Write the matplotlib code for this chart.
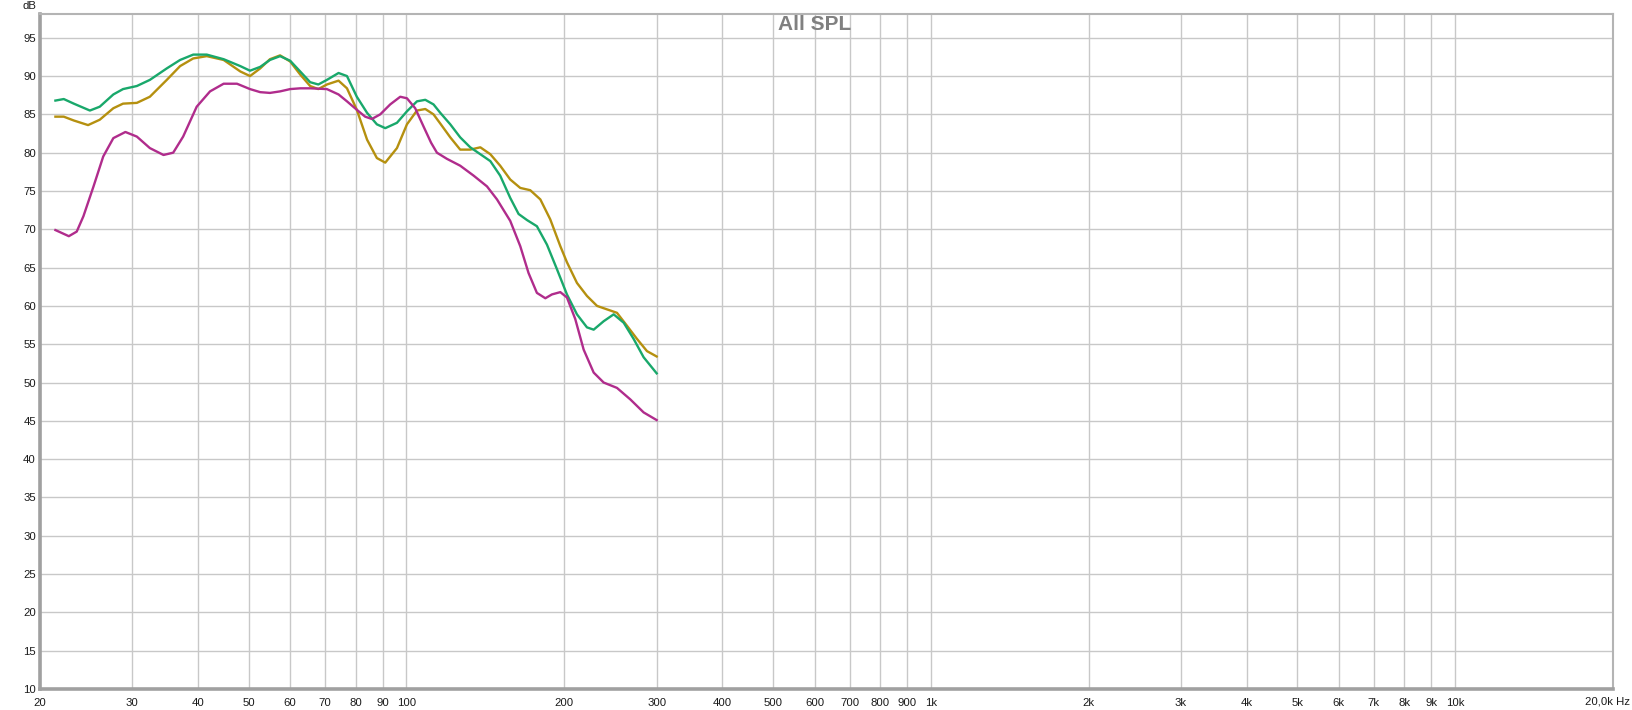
import matplotlib.pyplot as plt
from matplotlib.ticker import NullLocator

# frequencies (Hz) and levels (dB)
freq_green = [21.4, 22.2, 23.2, 24.9, 26.0, 27.6, 28.8, 30.6, 32.4, 34.9, 37.0, 39.2, 41.6, 44.8,
              48.2, 50.3, 52.6, 54.9, 57.4, 60.0, 62.7, 65.5, 67.9, 70.5, 74.2, 77.0, 80.4, 84.1,
              87.8, 91.1, 95.9, 100.2, 104.7, 108.6, 112.6, 116.0, 121.2, 126.6, 132.3, 138.3,
              144.5, 150.9, 157.7, 163.6, 169.8, 177.3, 185.3, 193.6, 202.3, 211.4, 220.9, 227.5,
              237.7, 248.4, 259.6, 271.1, 283.3, 300.0]
db_green = [86.8, 87.0, 86.4, 85.5, 86.0, 87.6, 88.3, 88.7, 89.5, 91.0, 92.1, 92.8, 92.8, 92.2,
            91.3, 90.7, 91.2, 92.1, 92.6, 92.0, 90.6, 89.2, 88.9, 89.5, 90.4, 90.0, 87.3, 85.2,
            83.7, 83.2, 83.9, 85.4, 86.7, 86.9, 86.3, 85.2, 83.7, 82.0, 80.7, 79.8,
            78.9, 77.0, 74.1, 72.0, 71.2, 70.4, 68.0, 64.8, 61.5, 58.9, 57.2, 56.9,
            58.0, 58.9, 57.8, 55.7, 53.3, 51.2]

freq_gold = [21.4, 22.2, 23.2, 24.7, 26.0, 27.6, 28.8, 30.6, 32.4, 34.9, 37.0, 39.2, 41.6, 44.8,
             48.2, 50.3, 52.6, 54.9, 57.4, 60.0, 62.7, 65.5, 67.9, 70.5, 74.2, 77.0, 80.4, 84.1,
             87.8, 91.1, 95.9, 100.2, 104.7, 108.6, 112.6, 116.0, 121.2, 126.6, 132.3, 138.3,
             144.5, 150.9, 157.7, 164.8, 172.2, 180.0, 188.0, 196.5, 202.3, 211.4, 220.9, 230.9,
             237.7, 252.0, 263.4, 275.1, 287.5, 300.0]
db_gold = [84.7, 84.7, 84.2, 83.6, 84.3, 85.8, 86.4, 86.5, 87.3, 89.5, 91.3, 92.3, 92.6, 92.1,
           90.6, 90.0, 91.0, 92.2, 92.7, 91.9, 90.2, 88.7, 88.3, 88.9, 89.4, 88.4, 85.6, 81.7,
           79.3, 78.7, 80.6, 83.7, 85.5, 85.7, 85.0, 83.8, 82.0, 80.4, 80.4, 80.7,
           79.8, 78.3, 76.5, 75.4, 75.1, 73.9, 71.3, 67.8, 65.7, 63.0, 61.3, 60.0,
           59.7, 59.1, 57.4, 55.7, 54.1, 53.4]

freq_magenta = [21.4, 22.7, 23.5, 24.2, 25.3, 26.4, 27.6, 29.1, 30.6, 32.4, 34.4, 35.9, 37.5, 39.8,
                42.2, 44.8, 47.5, 50.3, 52.6, 54.9, 57.4, 60.0, 62.7, 65.5, 70.5, 74.2, 77.0, 80.4,
                83.4, 85.9, 89.1, 93.1, 97.3, 100.2, 103.9, 107.8, 111.4, 114.3, 119.4, 126.6,
                134.3, 142.4, 148.8, 157.7, 164.8, 170.9, 177.3, 184.0, 189.4, 196.5, 202.3, 209.8,
                217.7, 227.5, 237.7, 252.0, 267.2, 283.3, 300.0]
db_magenta = [69.9, 69.1, 69.7, 71.7, 75.6, 79.5, 81.9, 82.7, 82.1, 80.6, 79.7, 80.0, 82.1, 86.0,
              88.0, 89.0, 89.0, 88.3, 87.9, 87.8, 88.0, 88.3, 88.4, 88.4, 88.3, 87.6, 86.7, 85.6,
              84.7, 84.4, 85.0, 86.3, 87.3, 87.1, 85.8, 83.4, 81.3, 80.0, 79.2, 78.3,
              77.0, 75.6, 73.9, 71.1, 67.8, 64.3, 61.7, 61.0, 61.5, 61.8, 61.1, 58.3,
              54.3, 51.3, 50.0, 49.3, 47.8, 46.1, 45.1]

xticks = [20, 30, 40, 50, 60, 70, 80, 90, 100, 200, 300, 400, 500, 600, 700, 800, 900,
          1000, 2000, 3000, 4000, 5000, 6000, 7000, 8000, 9000, 10000]
xlabels = ['20', '30', '40', '50', '60', '70', '80', '90', '100', '200', '300', '400', '500',
           '600', '700', '800', '900', '1k', '2k', '3k', '4k', '5k', '6k', '7k', '8k', '9k', '10k']
yticks = list(range(10, 100, 5))

plt.rcParams['font.family'] = ['Liberation Sans', 'DejaVu Sans']

fig = plt.figure(figsize=(16.32, 7.10), dpi=100)
ax = fig.add_axes([40 / 1632, 21 / 710, 1573 / 1632, 675 / 710])
ax.set_xscale('log')
ax.set_xlim(20, 20000)
ax.set_ylim(10, 98.1)

ax.plot(freq_gold, db_gold, color='#b5900f', lw=1.7, solid_joinstyle='round')
ax.plot(freq_green, db_green, color='#19a86b', lw=1.7, solid_joinstyle='round')
ax.plot(freq_magenta, db_magenta, color='#b02c8c', lw=1.7, solid_joinstyle='round')

ax.set_xticks(xticks)
ax.set_xticklabels(xlabels)
ax.xaxis.set_minor_locator(NullLocator())
ax.set_yticks(yticks)
ax.grid(True, color='#c8c8c8', lw=1)
ax.set_axisbelow(True)
ax.tick_params(length=0, labelsize=8.2, colors='#1a1a1a')
ax.tick_params(axis='x', pad=6.5)
ax.tick_params(axis='y', pad=3)

for side in ['left', 'bottom']:
    ax.spines[side].set_color('#a0a0a0')
    ax.spines[side].set_linewidth(2.6)
for side in ['top', 'right']:
    ax.spines[side].set_color('#b4b4b4')
    ax.spines[side].set_linewidth(1.5)

fig.text(1630 / 1632, 1 - 701 / 710, '20,0k Hz', ha='right', va='center', fontsize=8.2, color='#1a1a1a')
fig.text(29 / 1632, 1 - 6 / 710, 'dB', ha='center', va='center', fontsize=8.2, color='#1a1a1a')
fig.text(815 / 1632, 1 - 25 / 710, 'All SPL', ha='center', va='center', fontsize=15,
         fontweight='bold', color='#808080')

fig.savefig('out.png', dpi=100)
